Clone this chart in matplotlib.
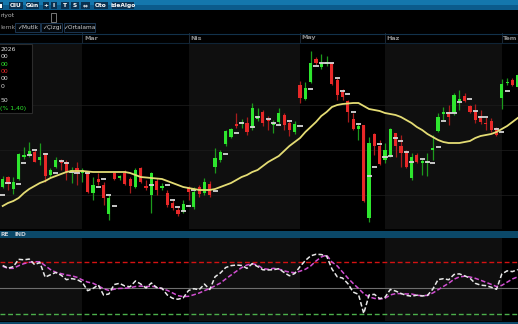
import matplotlib
matplotlib.use("Agg")
import matplotlib.pyplot as plt
from matplotlib.patches import Rectangle
from matplotlib.transforms import blended_transform_factory

plt.rcParams["font.family"] = "DejaVu Sans"

# ─── data ─────────────────────────────────────────────────────────────────────

opens = [36.3, 37.3, 36.1, 37.1, 39.3, 39.6, 39.8, 39.0, 39.7, 37.5,
         38.3, 38.9, 38.8, 37.7, 38.2, 37.7, 37.7, 35.7, 37.1, 36.5,
         33.6, 37.7, 37.2, 37.7, 37.1, 36.3, 38.2, 36.4, 35.5, 36.9,
         36.2, 35.7, 34.7, 34.0, 33.9, 36.2, 34.3, 36.3, 35.7, 36.6,
         38.3, 39.0, 40.6, 41.3, 42.6, 42.6, 42.7, 42.2, 43.1, 43.8,
         43.1, 42.5, 42.8, 43.5, 42.7, 41.8, 46.5, 45.1, 46.8, 49.1,
         48.3, 48.6, 48.7, 47.0, 45.8, 44.9, 43.1, 42.1, 42.5, 33.2,
         41.6, 40.4, 39.0, 39.4, 41.7, 40.4, 39.8, 37.2, 39.5, 38.7,
         38.7, 40.0, 41.9, 43.6, 43.8, 43.7, 44.9, 45.4, 44.4, 43.9,
         43.4, 42.7, 42.9, 42.2, 45.2, 46.7, 47.0, 46.3]
highs = [37.4, 37.4, 37.3, 39.7, 40.3, 40.8, 40.1, 40.7, 39.7, 38.2,
         39.3, 39.1, 39.0, 38.3, 38.8, 38.2, 37.8, 37.3, 37.7, 36.8,
         35.5, 37.8, 37.5, 38.0, 37.3, 38.2, 38.3, 37.0, 37.8, 37.2,
         36.7, 36.0, 35.0, 34.3, 35.0, 36.4, 36.3, 36.5, 37.2, 36.9,
         40.2, 40.0, 42.0, 42.2, 43.7, 43.1, 43.3, 44.7, 44.2, 44.0,
         43.4, 43.0, 44.2, 43.7, 42.9, 42.9, 46.9, 46.8, 49.9, 49.3,
         49.6, 49.4, 48.8, 47.2, 46.1, 45.0, 43.7, 42.7, 42.5, 41.3,
         41.7, 41.0, 40.7, 42.2, 41.7, 41.5, 40.0, 39.7, 39.7, 39.2,
         39.7, 41.5, 43.7, 44.3, 44.5, 45.7, 46.0, 45.7, 44.5, 44.6,
         44.0, 43.3, 43.2, 42.3, 47.1, 47.2, 47.2, 47.7]
lows = [36.2, 36.0, 35.6, 37.0, 39.1, 39.3, 38.8, 38.5, 36.8, 37.3,
        38.2, 38.0, 37.0, 36.7, 36.5, 36.8, 35.7, 35.0, 36.5, 34.5,
        33.0, 37.0, 37.0, 36.5, 35.7, 36.2, 36.7, 36.0, 33.7, 35.5,
        36.0, 34.3, 34.0, 33.4, 33.7, 35.0, 34.1, 35.3, 35.5, 35.3,
        37.7, 38.8, 40.4, 41.2, 42.2, 42.2, 41.5, 42.0, 42.9, 42.4,
        42.0, 41.7, 42.5, 42.0, 41.4, 41.6, 44.7, 45.0, 46.7, 48.5,
        48.1, 48.4, 46.5, 45.0, 45.0, 42.8, 42.0, 41.0, 34.8, 32.8,
        39.5, 38.5, 38.7, 39.3, 39.3, 38.3, 38.2, 37.0, 38.7, 37.5,
        37.4, 39.0, 41.8, 43.0, 42.5, 43.5, 44.0, 44.8, 43.7, 42.7,
        42.6, 42.0, 41.8, 41.4, 44.1, 46.5, 46.4, 46.2]
closes = [37.1, 36.6, 36.8, 39.6, 39.5, 39.9, 38.8, 39.3, 37.4, 38.0,
          39.0, 38.7, 37.8, 38.0, 37.7, 38.0, 35.8, 36.5, 36.8, 35.2,
          35.2, 37.1, 37.4, 36.6, 36.4, 38.0, 36.8, 36.2, 37.7, 36.0,
          36.4, 34.5, 34.2, 33.6, 34.6, 35.8, 35.8, 35.6, 36.8, 35.5,
          39.2, 39.8, 41.9, 42.1, 42.4, 42.8, 41.8, 44.2, 43.4, 42.7,
          42.9, 42.7, 43.7, 42.5, 42.0, 42.6, 45.2, 46.2, 48.7, 48.7,
          48.7, 48.8, 46.6, 45.5, 45.3, 43.8, 42.1, 42.4, 34.9, 40.7,
          40.4, 38.6, 40.0, 42.1, 40.4, 39.7, 38.3, 39.3, 38.8, 38.9,
          38.9, 40.2, 43.3, 43.8, 43.3, 45.5, 45.1, 44.9, 43.8, 43.0,
          42.8, 42.6, 42.0, 41.5, 46.6, 46.8, 46.5, 47.5]

ma_line = [34.4, 34.7, 34.9, 35.2, 35.7, 36.1, 36.4, 36.7, 36.9, 37.2,
           37.4, 37.6, 37.8, 37.9, 37.9, 37.9, 37.85, 37.8, 37.8, 37.8,
           37.8, 37.8, 37.8, 37.8, 37.7, 37.5, 37.3, 37.25, 37.2, 37.15,
           37.1, 36.9, 36.7, 36.5, 36.3, 36.2, 36.1, 36.0, 36.0, 36.0,
           36.1, 36.3, 36.5, 36.7, 37.0, 37.3, 37.5, 37.8, 38.0, 38.4,
           38.8, 39.1, 39.4, 39.9, 40.4, 40.8, 41.2, 41.8, 42.3, 42.8,
           43.4, 43.8, 44.3, 44.5, 44.6, 44.65, 44.7, 44.7, 44.4, 44.1,
           44.0, 43.9, 43.7, 43.6, 43.5, 43.3, 43.0, 42.7, 42.3, 42.0,
           41.6, 41.3, 41.0, 40.8, 40.7, 40.7, 40.7, 40.8, 40.9, 41.2,
           41.4, 41.5, 41.6, 41.8, 42.1, 42.4, 42.8, 43.2]

# white markers drawn across some candles
mark_idx = [0, 1, 3, 4, 5, 6, 8, 10, 11, 12, 13, 14, 16, 18, 19, 20, 21, 28, 31, 32,
            33, 34, 35, 36, 40, 42, 44, 45, 47, 48, 50, 51, 52, 54, 56, 58, 59, 60, 61, 62,
            63, 64, 65, 66, 67, 69, 70, 71, 72, 73, 74, 75, 76, 77, 79, 80, 81, 82, 83, 84,
            85, 86, 88, 89, 90, 91, 93, 94, 95]
mark_val = [35.5, 36.7, 36.6, 38.7, 39.5, 40.0, 39.6, 37.7, 38.9, 38.7,
            37.8, 37.7, 37.7, 36.3, 37.1, 35.5, 34.4, 36.5, 36.5, 35.0,
            34.3, 33.9, 34.4, 36.0, 35.9, 39.6, 41.7, 42.7, 42.3, 43.3,
            43.1, 42.7, 42.5, 42.9, 42.4, 46.1, 48.4, 48.7, 48.7, 48.7,
            47.2, 45.9, 45.6, 43.8, 42.6, 37.4, 38.3, 40.6, 39.3, 39.4,
            41.2, 40.9, 39.8, 38.8, 39.1, 38.8, 38.7, 40.3, 42.9, 43.7,
            43.7, 44.8, 45.1, 43.9, 43.3, 43.3, 42.1, 41.8, 45.9]

stoch_k = [76.0, 72.8, 74.6, 83.1, 82.5, 83.4, 77.0, 79.4, 62.5, 65.3,
           67.9, 64.8, 59.6, 60.8, 59.7, 56.5, 46.9, 49.4, 53.5, 41.9,
           43.1, 54.0, 55.4, 52.3, 51.4, 58.1, 54.6, 50.0, 55.8, 50.5,
           49.7, 41.9, 38.1, 37.0, 38.6, 47.1, 49.2, 48.0, 54.5, 48.2,
           63.0, 67.3, 73.6, 75.8, 76.5, 76.0, 72.7, 78.1, 74.8, 71.0,
           70.8, 71.1, 72.3, 67.9, 64.1, 66.7, 74.7, 81.7, 87.1, 88.9,
           88.6, 86.9, 72.1, 62.9, 61.5, 55.1, 45.3, 42.7, 20.5, 41.9,
           42.7, 37.8, 39.2, 48.3, 46.5, 43.7, 41.5, 40.5, 41.7, 40.8,
           41.5, 48.6, 59.7, 60.7, 59.5, 65.6, 66.3, 64.1, 61.3, 55.4,
           53.3, 52.7, 50.9, 48.5, 66.1, 69.8, 68.9, 71.3]
stoch_d = [75.0, 72.7, 72.7, 75.7, 78.1, 79.6, 80.3, 80.3, 75.8, 71.2,
           68.1, 66.6, 65.0, 64.1, 62.3, 59.3, 56.8, 55.5, 52.5, 49.1,
           47.2, 48.6, 49.5, 49.7, 50.3, 51.7, 52.2, 51.6, 52.1, 51.0,
           49.1, 47.3, 44.3, 41.2, 40.0, 40.4, 42.2, 44.2, 46.9, 49.4,
           52.5, 55.7, 60.4, 64.9, 69.3, 73.5, 76.5, 78.1, 76.5, 72.4,
           71.6, 72.7, 71.8, 69.8, 68.3, 67.6, 69.4, 71.6, 75.4, 81.1,
           85.8, 88.1, 80.0, 75.5, 68.5, 61.5, 55.3, 49.5, 43.4, 39.7,
           38.0, 37.2, 38.1, 42.0, 43.5, 43.5, 43.1, 43.1, 41.6, 41.1,
           41.5, 44.2, 48.0, 51.8, 55.5, 60.1, 62.8, 63.6, 62.7, 61.2,
           59.0, 56.6, 54.2, 51.7, 53.0, 56.7, 60.4, 62.9]
osc_levels = [80, 50, 20]

month_start = [15, 35, 56, 72, 94]
month_names = ["Mar", "Nis", "May", "Haz", "Tem"]

# ─── figure ───────────────────────────────────────────────────────────────────

W, H = 518, 324
BG_LIGHT = "#0f0f0f"
fig = plt.figure(figsize=(W / 100, H / 100), dpi=100)
fig.patch.set_facecolor("black")


def box(x0, y0, x1, y1):
    return [x0 / W, 1 - y1 / H, (x1 - x0) / W, (y1 - y0) / H]


ax = fig.add_axes(box(0, 43, 518, 229))
osc = fig.add_axes(box(0, 238, 518, 321))
n = len(closes)
xs = list(range(n))
x_left, x_right = -0.508, 97.05

bounds = [x_left - 1] + month_start + [x_right + 1]
for a in (ax, osc):
    a.set_facecolor("black")
    a.set_xlim(x_left, x_right)
    a.set_xticks([]); a.set_yticks([])
    for s in a.spines.values():
        s.set_visible(False)
    for k in range(0, len(bounds) - 1, 2):
        a.axvspan(bounds[k], bounds[k + 1], color=BG_LIGHT, lw=0, zorder=0)

ax.set_ylim(32.1, 50.7)
for lvl in (35.5, 40.0, 44.5):
    ax.axhline(lvl, color="#1a1a1a", lw=0.6, zorder=0.5)

# candles
up = [c >= o for o, c in zip(opens, closes)]
body_col = ["#2ee62e" if u else "#e82828" for u in up]
wick_col = ["#1c9a1c" if u else "#a81c1c" for u in up]
bottoms = [min(o, c) for o, c in zip(opens, closes)]
heights = [max(abs(c - o), 0.13) for o, c in zip(opens, closes)]
ax.vlines(xs, lows, highs, colors=wick_col, lw=0.9, zorder=2)
ax.bar(xs, heights, bottom=bottoms, width=0.6, color=body_col, lw=0, zorder=3)
ax.hlines(mark_val, [i - 0.48 for i in mark_idx], [i + 0.48 for i in mark_idx],
          colors="#d6d6d6", lw=1.3, zorder=4)
ax.plot(xs, ma_line, color="#e4dc74", lw=1.3, zorder=5)

# month labels in the strip above the price panel
tr = blended_transform_factory(ax.transData, ax.transAxes)
for i, name in zip(month_start, month_names):
    ax.plot([i, i], [1.0, 1.0 + 10 / 186], color="#1d2a36", lw=0.7,
            transform=tr, clip_on=False)
    ax.text(i + 0.3, 1.0 + 5 / 186, name, transform=tr, fontsize=4.6,
            color="#8c8c8c", ha="left", va="center", fontweight="bold")

# oscillator panel
osc.set_ylim(11.9, 107.7)
osc.axhline(osc_levels[0], color="#d41212", lw=1.0, dashes=(3.5, 2))
osc.axhline(osc_levels[1], color="#6e6e6e", lw=0.8)
osc.axhline(osc_levels[2], color="#4cb04c", lw=1.0, dashes=(3.5, 2))
osc.plot(xs, stoch_d, color="#d24fd2", lw=1.1, dashes=(3, 1.5))
osc.plot(xs, stoch_k, color="#e8e8e8", lw=1.1, dashes=(3, 1.5))

# ─── platform chrome ──────────────────────────────────────────────────────────

deco = fig.add_axes([0, 0, 1, 1], zorder=10)
deco.set_xlim(0, W); deco.set_ylim(H, 0)
deco.axis("off")
deco.patch.set_alpha(0)

deco.add_patch(Rectangle((0, 0), W, 5, color="#1477ad", lw=0))
deco.add_patch(Rectangle((0, 5), W, 5, color="#0b5b8c", lw=0))
# partly hidden toolbar button at the far left
deco.add_patch(Rectangle((0, 2), 3, 7, color="#0a3150", lw=0))
deco.add_patch(Rectangle((0, 3.5), 2, 4, color="white", lw=0))
buttons = [("OIU", 9, 23), ("Gün", 26, 39), ("+", 43, 49), ("I", 51, 57),
           ("T", 61, 69), ("S", 71, 79), ("⇔", 81, 90), ("Oto", 94, 108),
           ("ideAlgo", 112, 134)]
for label, x0, x1 in buttons:
    deco.add_patch(Rectangle((x0, 2), x1 - x0, 7, color="#0a3150", lw=0))
    deco.text((x0 + x1) / 2, 5.6, label, fontsize=4.2, color="white",
              ha="center", va="center", fontweight="bold")

deco.text(0.5, 16, "riyot", fontsize=4.4, color="#b4b4b4", va="center")
deco.add_patch(Rectangle((51, 12.5), 5, 9, fill=False, ec="#8a8a8a", lw=0.6))
deco.text(0.5, 27.5, "lemk", fontsize=4.4, color="#9a9a9a", va="center")
for label, x0, x1 in [("✓Mutlk", 15, 40), ("✓Çizgi", 41, 62), ("✓Ortalama", 63.5, 95)]:
    deco.add_patch(Rectangle((x0, 23), x1 - x0, 9, fc="#03070b", ec="#1b3550", lw=0.7))
    deco.text((x0 + x1) / 2, 27.6, label, fontsize=4.2, color="#cfcfcf",
              ha="center", va="center")

deco.plot([0, W], [33.5, 33.5], color="#12324b", lw=0.8)
deco.plot([0, W], [43, 43], color="#0f2436", lw=0.8)

# info box at the top-left of the price panel
deco.add_patch(Rectangle((-1, 43.5), 33, 69.5, fc="black", ec="#2c2c2c", lw=0.8))
info = [(49.3, "2026", "#d8d8d8"), (56.7, "00", "#d8d8d8"), (64.0, "00", "#2ee62e"),
        (71.3, "00", "#e82828"), (79.0, "00", "#d8d8d8"), (86.0, "0", "#d8d8d8"),
        (101.0, "50", "#d8d8d8"), (108.7, "(% 1,40)", "#2ee62e")]
for y, txt, col in info:
    deco.text(0.5, y, txt, fontsize=4.4, color=col, va="center", ha="left")

# separator bar above the oscillator and bottom edge
deco.add_patch(Rectangle((0, 230.5), W, 7, color="#0b4868", lw=0))
deco.text(0.5, 234, "RE", fontsize=4.2, color="#c6ced6", va="center", fontweight="bold")
deco.text(14.5, 234, "IND", fontsize=4.2, color="#c6ced6", va="center", fontweight="bold")
deco.add_patch(Rectangle((0, 321.5), W, 3, color="#0b4868", lw=0))

fig.savefig("out.png", dpi=100, facecolor="black")
